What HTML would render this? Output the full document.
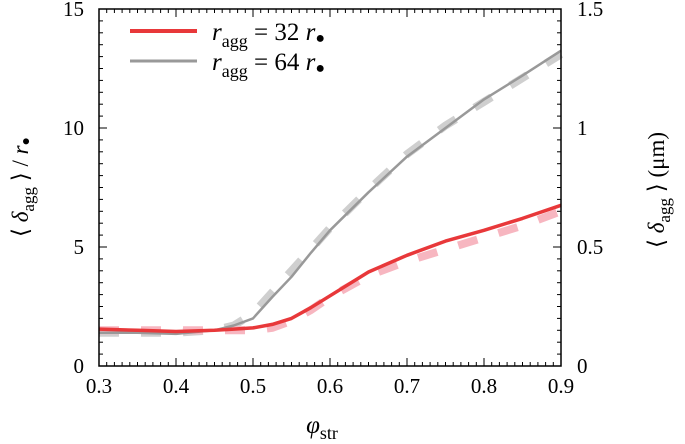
<!DOCTYPE html>
<html><head><meta charset="utf-8"><style>
body{margin:0;background:#fff;}
svg{display:block;font-family:"Liberation Serif",serif;}
</style></head><body>
<svg id="chart" width="685" height="444" viewBox="0 0 685 444">
<g id="ticks"></g>
<g id="series"></g>
<rect x="99" y="9" width="462" height="357" fill="none" stroke="#000" stroke-width="1.5"/>
<g>
<line x1="130" y1="31" x2="197" y2="31" stroke="#e8383a" stroke-width="4"/>
<text x="212" y="40" font-size="25"><tspan font-style="italic">r</tspan><tspan font-size="18" dy="7">agg</tspan><tspan dy="-7"> = 32 </tspan><tspan font-style="italic">r</tspan><tspan font-size="16" dy="3">●</tspan></text>
<line x1="130" y1="61" x2="197" y2="61" stroke="#999" stroke-width="3"/>
<text x="212" y="70" font-size="25"><tspan font-style="italic">r</tspan><tspan font-size="18" dy="7">agg</tspan><tspan dy="-7"> = 64 </tspan><tspan font-style="italic">r</tspan><tspan font-size="16" dy="3">●</tspan></text>
</g>
<text transform="translate(28,187) rotate(-90)" text-anchor="middle" font-size="23">⟨ <tspan font-style="italic">δ</tspan><tspan font-size="17" dy="6">agg</tspan><tspan dy="-6"> ⟩ / </tspan><tspan font-style="italic">r</tspan><tspan font-size="14" dy="2">●</tspan></text>
<text transform="translate(664,190) rotate(-90)" text-anchor="middle" font-size="23">⟨ <tspan font-style="italic">δ</tspan><tspan font-size="17" dy="6">agg</tspan><tspan dy="-6"> ⟩  (μm)</tspan></text>
<text x="322" y="433" text-anchor="middle" font-size="25"><tspan font-style="italic">φ</tspan><tspan font-size="18" dy="6">str</tspan></text>
</svg>
<script>
const xTicks=[0.3,0.4,0.5,0.6,0.7,0.8,0.9];
const yTicksLeft=[0,5,10,15];
const yTicksRight=["0","0.5","1","1.5"];
const phi=[0.3,0.35,0.4,0.45,0.475,0.5,0.525,0.55,0.575,0.6,0.65,0.7,0.75,0.8,0.85,0.9];
const red=[1.55,1.5,1.45,1.5,1.55,1.6,1.75,2.0,2.45,2.95,3.95,4.65,5.25,5.7,6.2,6.75];
const redFit=[1.5,1.5,1.5,1.5,1.5,1.5,1.6,1.9,2.35,2.9,3.8,4.4,4.9,5.4,5.9,6.5];
const grey=[1.4,1.4,1.35,1.5,1.7,2.0,2.9,3.75,4.75,5.7,7.3,8.8,10.0,11.2,12.2,13.25];
const greyFit=[1.4,1.4,1.4,1.5,1.7,2.2,3.1,4.0,4.9,5.8,7.4,8.9,10.1,11.1,12.1,13.1];
const X=v=>99+(v-0.3)/0.6*462, Y=v=>366-v/15*357;
const NS="http://www.w3.org/2000/svg";
const tg=document.getElementById('ticks'), sg=document.getElementById('series');
function mk(tag,at,p){const e=document.createElementNS(NS,tag);for(const k in at)e.setAttribute(k,at[k]);p.appendChild(e);return e;}
for(let i=0;i<=60;i++){const v=0.3+i*0.01,x=X(v),L=(i%10==0)?8:4;
const a=mk('line',{x1:x,x2:x,y1:366,y2:366-L,stroke:'#000','stroke-width':1},tg);

const b=mk('line',{x1:x,x2:x,y1:9,y2:9+L,stroke:'#000','stroke-width':1},tg);
}
for(let i=0;i<=30;i++){const v=i*0.5,y=Y(v),L=(i%10==0)?8:4;
const a=mk('line',{x1:99,x2:99+L,y1:y,y2:y,stroke:'#000','stroke-width':1},tg);

const b=mk('line',{x1:561,x2:561-L,y1:y,y2:y,stroke:'#000','stroke-width':1},tg);
}
xTicks.forEach(v=>{const t=mk('text',{x:X(v),y:393,'text-anchor':'middle','font-size':21},tg);t.textContent=v.toFixed(1);
});
yTicksLeft.forEach((v,i)=>{const t=mk('text',{x:84,y:Y(v)+7,'text-anchor':'end','font-size':21},tg);t.textContent=v;

const r=mk('text',{x:577,y:Y(v)+7,'font-size':21},tg);r.textContent=yTicksRight[i];
});
function path(arr){return arr.map((v,i)=>(i?'L':'M')+X(phi[i]).toFixed(1)+','+Y(v).toFixed(1)).join('');}
const f1=mk('path',{d:path(greyFit),fill:'none',stroke:'#cfcfcf','stroke-width':8,'stroke-dasharray':'20 22'},sg);

const f2=mk('path',{d:path(redFit),fill:'none',stroke:'#f7b6c0','stroke-width':8,'stroke-dasharray':'20 22'},sg);

const l1=mk('path',{d:path(grey),fill:'none',stroke:'#999','stroke-width':2.5,'stroke-linejoin':'round'},sg);

const l2=mk('path',{d:path(red),fill:'none',stroke:'#e8383a','stroke-width':3.5,'stroke-linejoin':'round'},sg);

</script>
</body></html>
